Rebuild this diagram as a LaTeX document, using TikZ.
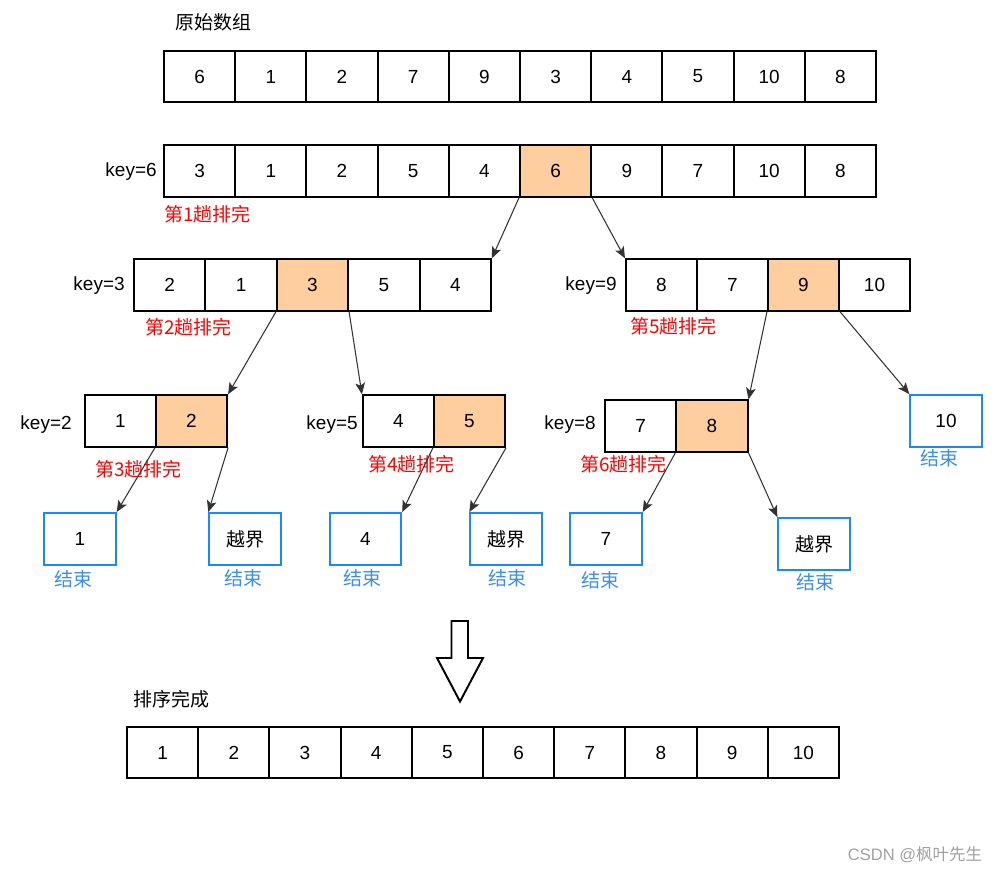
\documentclass[tikz,border=0pt]{standalone}
\usepackage{fontspec}
\setmainfont{Liberation Sans}
\newfontfamily\cjk{Noto Sans CJK SC}
\usepackage{xcolor}
\usetikzlibrary{arrows.meta}
\definecolor{pivotbg}{HTML}{FFCE9F}
\definecolor{leafline}{HTML}{1A88FF}
\definecolor{endtext}{HTML}{3C8CF0}
\definecolor{passred}{HTML}{FF0000}
\definecolor{wire}{HTML}{333333}
\definecolor{mark}{HTML}{A0A0A0}
\tikzset{
  txt/.style={font=\fontsize{10.8}{13}\selectfont},
  cell/.style={txt, draw=black, line width=1.1pt, fill=white, inner sep=0pt,
    minimum width=1.424cm, minimum height=1.03cm},
  hot/.style={cell, fill=pivotbg},
  leaf/.style={txt, draw=leafline, line width=1.1pt, fill=white, inner sep=0pt,
    minimum width=1.43cm, minimum height=1.04cm},
  keylab/.style={txt, anchor=east, inner sep=0pt},
  passlab/.style={txt, text=passred, anchor=west, inner sep=0pt},
  endlab/.style={txt, text=endtext, inner sep=0pt},
  flow/.style={draw=wire, line width=0.6pt, -{Stealth[length=6.5pt,width=5.5pt,inset=1.5pt]}},
}

\begin{document}
\begin{tikzpicture}[x=0.02cm, y=-0.02cm]
  \useasboundingbox (0,0) rectangle (999,873);

  % original array
  \node[txt, anchor=west, inner sep=0pt] (title) at (175,22) {\cjk 原始数组};
  \foreach \v [count=\i] in {6,1,2,7,9,3,4,5,10,8}
    \node[cell] (a\i) at ({164+71.2*(\i-0.5)},76.5) {\v};

  % pass 1
  \foreach \v/\s [count=\i] in {3/cell,1/cell,2/cell,5/cell,4/cell,6/hot,9/cell,7/cell,10/cell,8/cell}
    \node[\s] (b\i) at ({164+71.2*(\i-0.5)},171) {\v};
  \node[keylab] (kb) at (157,172) {key=6};
  \node[passlab] (pb) at (164,214) {\cjk 第1趟排完};

  % pass 2 and 5
  \foreach \v/\s [count=\i] in {2/cell,1/cell,3/hot,5/cell,4/cell}
    \node[\s] (l\i) at ({134+71.4*(\i-0.5)},285) {\v};
  \node[keylab] (kl) at (125,286) {key=3};
  \node[passlab] (pl) at (145,327) {\cjk 第2趟排完};

  \foreach \v/\s [count=\i] in {8/cell,7/cell,9/hot,10/cell}
    \node[\s] (r\i) at ({626+71*(\i-0.5)},285) {\v};
  \node[keylab] (kr) at (617,286) {key=9};
  \node[passlab] (pr) at (630,326) {\cjk 第5趟排完};

  % pass 3, 4, 6
  \foreach \v/\s [count=\i] in {1/cell,2/hot}
    \node[\s] (p\i) at ({85+71*(\i-0.5)},421) {\v};
  \node[keylab] (kp) at (72,425) {key=2};
  \node[passlab] (pp) at (95,469) {\cjk 第3趟排完};

  \foreach \v/\s [count=\i] in {4/cell,5/hot}
    \node[\s] (q\i) at ({363+71*(\i-0.5)},421) {\v};
  \node[keylab] (kq) at (358,425) {key=5};
  \node[passlab] (pq) at (368,464) {\cjk 第4趟排完};

  \foreach \v/\s [count=\i] in {7/cell,8/hot}
    \node[\s] (s\i) at ({605+71.3*(\i-0.5)},426) {\v};
  \node[keylab] (ks) at (596,425) {key=8};
  \node[passlab] (ps) at (580,464) {\cjk 第6趟排完};

  % leaves
  \node[leaf] (e1) at (80,539) {1};
  \node[leaf] (e2) at (245,539) {\cjk 越界};
  \node[leaf] (e3) at (365.5,539) {4};
  \node[leaf] (e4) at (506,539) {\cjk 越界};
  \node[leaf] (e5) at (606,539) {7};
  \node[leaf] (e6) at (814,544) {\cjk 越界};
  \node[leaf] (e7) at (946,421) {10};
  \node[endlab] (f1) at (73.5,579) {\cjk 结束};
  \node[endlab] (f2) at (243.5,578) {\cjk 结束};
  \node[endlab] (f3) at (362,578) {\cjk 结束};
  \node[endlab] (f4) at (507,578) {\cjk 结束};
  \node[endlab] (f5) at (600,580) {\cjk 结束};
  \node[endlab] (f6) at (815,582) {\cjk 结束};
  \node[endlab] (f7) at (939,458) {\cjk 结束};

  % splits
  \draw[flow] (b6.south west) -- (l5.north east);
  \draw[flow] (b6.south east) -- (r1.north west);
  \draw[flow] (l3.south west) -- (p2.north east);
  \draw[flow] (l3.south east) -- (q1.north west);
  \draw[flow] (r3.south west) -- (s2.north east);
  \draw[flow] (r3.south east) -- (e7.north west);
  \draw[flow] (p2.south west) -- (e1.north east);
  \draw[flow] (p2.south east) -- (e2.north west);
  \draw[flow] (q2.south west) -- (e3.north east);
  \draw[flow] (q2.south east) -- (e4.north west);
  \draw[flow] (s2.south west) -- (e5.north east);
  \draw[flow] (s2.south east) -- (e6.north west);

  % big arrow
  \draw[line width=1.1pt, fill=white, line join=miter]
    (451.5,621) -- (468,621) -- (468,658) -- (483,658) -- (460,701.5)
    -- (437,658) -- (451.5,658) -- cycle;

  % sorted array
  \node[txt, anchor=west, inner sep=0pt] (done) at (133,699) {\cjk 排序完成};
  \foreach \v [count=\i] in {1,...,10}
    \node[cell] (z\i) at ({127+71.2*(\i-0.5)},752.5) {\v};

  \node[text=mark, font=\fontsize{9.4}{11}\selectfont, inner sep=0pt] (wm) at (915,855)
    {CSDN @{\cjk 枫叶先生}};
\end{tikzpicture}
\end{document}
